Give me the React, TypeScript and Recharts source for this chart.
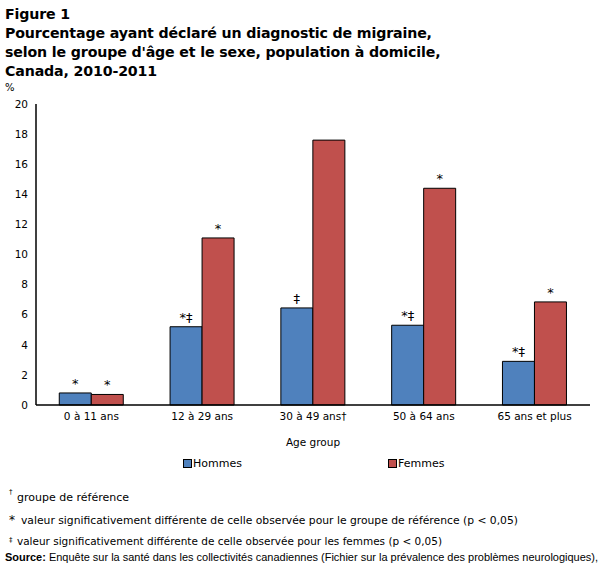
import React from 'react';
import { BarChart, Bar, XAxis, YAxis, Legend, LabelList } from 'recharts';

const categories = ['0 à 11 ans', '12 à 29 ans', '30 à 49 ans†', '50 à 64 ans', '65 ans et plus'];
const hommes = [0.8, 5.2, 6.45, 5.3, 2.9];
const femmes = [0.7, 11.1, 17.6, 14.4, 6.85];
const hommesMarks = ['*', '*‡', '‡', '*‡', '*‡'];
const femmesMarks = ['*', '*', '', '*', '*'];
const yTicks = [0, 2, 4, 6, 8, 10, 12, 14, 16, 18, 20];

const titleLines = [
  'Figure 1',
  'Pourcentage ayant déclaré un diagnostic de migraine,',
  "selon le groupe d'âge et le sexe, population à domicile,",
  'Canada, 2010-2011',
];

const data = categories.map((c, i) => ({
  cat: c,
  Hommes: hommes[i],
  Femmes: femmes[i],
  hm: hommesMarks[i],
  fm: femmesMarks[i],
}));

const BLUE = '#4F81BD';
const RED = '#C0504D';
const FONT = '"DejaVu Sans", Verdana, sans-serif';

const LegendContent = () => (
  <div style={{ position: 'relative', width: 607, height: 20, fontFamily: FONT, fontSize: 11, color: '#000' }}>
    {[
      { name: 'Hommes', color: BLUE, x: 183 },
      { name: 'Femmes', color: RED, x: 388 },
    ].map((it) => (
      <div key={it.name} style={{ position: 'absolute', left: it.x, top: 7, display: 'flex', alignItems: 'center' }}>
        <span style={{ display: 'inline-block', width: 7, height: 7, background: it.color, border: '1px solid #000', marginRight: 1 }} />
        <span>{it.name}</span>
      </div>
    ))}
  </div>
);

export default function App() {
  return (
    <div style={{ position: 'absolute', left: 0, top: 0, width: 607, height: 575, background: '#fff', fontFamily: FONT }}>
      <div style={{ position: 'absolute', left: 5, top: 5, fontSize: 14.2, fontWeight: 'bold', letterSpacing: '-0.15px', lineHeight: '19px', color: '#000', whiteSpace: 'nowrap' }}>
        {titleLines.map((l) => (
          <div key={l}>{l}</div>
        ))}
      </div>
      <div style={{ position: 'absolute', left: 5, top: 82, fontSize: 10, color: '#000' }}>%</div>
      <BarChart
        width={607}
        height={575}
        data={data}
        margin={{ top: 104, right: 17, bottom: 95, left: 0 }}
        barGap={0}
        barCategoryGap="21%"
      >
        <XAxis
          dataKey="cat"
          tickLine={false}
          axisLine={{ stroke: '#000', strokeWidth: 1.5 }}
          tick={{ fill: '#000', fontSize: 10.5, fontFamily: FONT }}
          height={45}
          interval={0}
          label={{ value: 'Age group', position: 'insideBottom', offset: 4, fill: '#000', fontSize: 10.5, fontFamily: FONT }}
        />
        <XAxis xAxisId="top" orientation="top" dataKey="cat" height={0} tick={false} tickLine={false} axisLine={{ stroke: '#000', strokeWidth: 1.5 }} />
        <YAxis
          domain={[0, 20]}
          ticks={yTicks}
          width={36}
          tickLine={false}
          axisLine={{ stroke: '#000', strokeWidth: 1.5 }}
          tick={{ fill: '#000', fontSize: 10.5, fontFamily: FONT }}
          interval={0}
        />
        <YAxis yAxisId="right" orientation="right" width={0} tick={false} tickLine={false} axisLine={{ stroke: '#000', strokeWidth: 1.5 }} />
        <Legend verticalAlign="bottom" height={30} content={<LegendContent />} />
        <Bar dataKey="Hommes" fill={BLUE} stroke="#000" strokeWidth={1} isAnimationActive={false}>
          <LabelList dataKey="hm" position="top" offset={5} fill="#000" fontSize={13} fontFamily={FONT} />
        </Bar>
        <Bar dataKey="Femmes" fill={RED} stroke="#000" strokeWidth={1} isAnimationActive={false}>
          <LabelList dataKey="fm" position="top" offset={5} fill="#000" fontSize={13} fontFamily={FONT} />
        </Bar>
      </BarChart>
      <svg width={607} height={100} style={{ position: 'absolute', left: 0, top: 480 }}>
        <g fontFamily={FONT} fontSize={11} fill="#000">
          <text x={9} y={14} fontSize={7}>†</text>
          <text x={17} y={21}>groupe de référence</text>
          <text x={9} y={44} fontSize={12}>*</text>
          <text x={21} y={44} textLength={497} lengthAdjust="spacingAndGlyphs">valeur significativement différente de celle observée pour le groupe de référence (p &lt; 0,05)</text>
          <text x={9} y={62} fontSize={7}>‡</text>
          <text x={17} y={65} textLength={425} lengthAdjust="spacingAndGlyphs">valeur significativement différente de celle observée pour les femmes (p &lt; 0,05)</text>
          <text x={5} y={81} fontFamily='"Liberation Sans Narrow", "Liberation Sans", Arial, sans-serif' fontSize={10.5} textLength={593} lengthAdjust="spacingAndGlyphs">
            <tspan fontWeight="bold">Source:</tspan> Enquête sur la santé dans les collectivités canadiennes (Fichier sur la prévalence des problèmes neurologiques),
          </text>
        </g>
      </svg>
    </div>
  );
}
